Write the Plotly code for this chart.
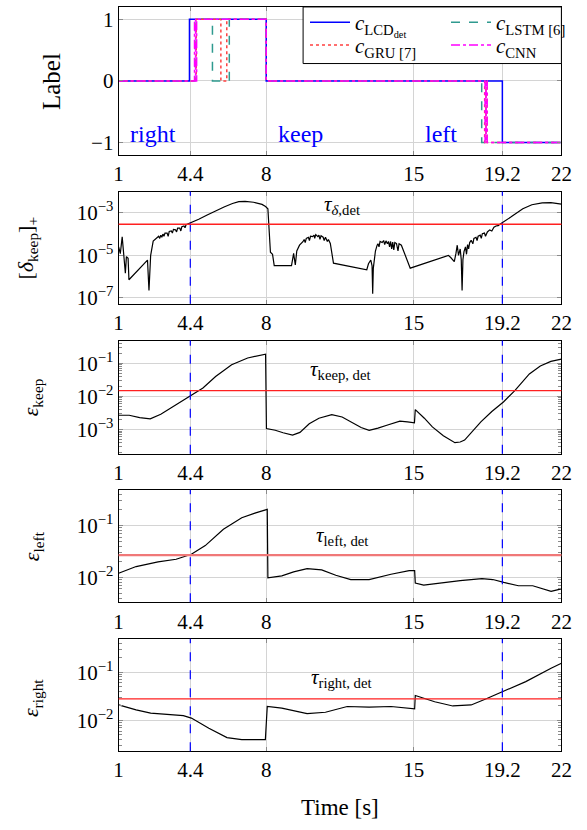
import plotly.graph_objects as go

# ---------------- data ----------------
time_ticks = [1, 4.4, 8, 15, 19.2, 22]
time_tick_text = ["1", "4.4", "8", "15", "19.2", "22"]
event_times = [4.4, 19.2]

# Panel 1: predicted labels (step signals: switch times, values)
lcd_t = [1, 4.36, 8, 19.2, 22]
lcd_v = [0, 1, 0, -1, -1]
lstm_t = [1, 4.62, 5.45, 6.25, 8, 18.22, 22]
lstm_v = [0, 1, 0, 1, 0, -1, -1]
gru_t = [1, 4.68, 5.85, 6.13, 8, 18.36, 18.42, 18.47, 22]
gru_v = [0, 1, 0, 1, 0, -1, 0, -1, -1]
cnn_t = [1, 4.6, 4.65, 4.7, 8, 18.38, 18.43, 18.48, 22]
cnn_v = [0, 1, 0, 1, 0, -1, 0, -1, -1]

segment_names = ["right", "keep", "left"]
segment_name_t = [2.61, 9.61, 16.29]
segment_name_y = [-0.855, -0.855, -0.855]

# Panel 2: [delta_keep]_+
delta_t = [1.0, 1.08, 1.17, 1.25, 1.32, 1.37, 1.45, 1.49, 2.37, 2.44, 2.52, 2.64, 2.83,
           2.9, 2.95, 3.0, 3.05, 3.1, 3.15, 3.2, 3.3, 3.35, 3.4, 3.5, 3.55, 3.6, 3.7, 3.75,
           3.8, 3.9, 3.95, 4.0, 4.1, 4.15, 4.2, 4.3, 4.4, 4.8, 5.2, 5.6, 6.0, 6.4, 6.7, 7.0,
           7.4, 7.8, 7.97, 8.08, 8.2, 8.3, 8.38, 9.2, 9.3, 9.38, 9.45, 9.58, 9.65, 9.74, 9.8,
           9.85, 9.9, 10.0, 10.05, 10.1, 10.2, 10.27, 10.3, 10.35, 10.45, 10.5, 10.55, 10.6,
           10.7, 10.75, 10.81, 10.9, 10.95, 11.04, 11.19, 12.77, 12.85, 12.96, 13.02, 13.05,
           13.08, 13.11, 13.18, 13.26, 13.3, 13.35, 13.4, 13.5, 13.57, 13.62, 13.68, 13.75,
           13.8, 13.85, 13.9, 13.95, 14.0, 14.05, 14.1, 14.18, 14.25, 14.3, 14.41, 14.83,
           16.64, 16.75, 16.92, 17.0, 17.06, 17.12, 17.2, 17.25, 17.29, 17.33, 17.38, 17.45,
           17.5, 17.55, 17.6, 17.65, 17.72, 17.8, 17.85, 17.95, 18.0, 18.05, 18.15, 18.2,
           18.25, 18.35, 18.4, 18.49, 18.6, 18.7, 18.8, 18.9, 19.0, 19.1, 19.25, 19.6, 20.17,
           20.6, 21.09, 21.5, 22.0]
delta_v = [2.5e-5, 1.2e-5, 7.4e-5, 6e-6, 1.45e-6, 8.7e-6, 7.2e-6, 7.1e-7, 6.0e-6, 2.2e-7,
           1.0e-5, 4.7e-5, 7.4e-5,
           7.9e-5, 6.3e-5, 8.9e-5, 7.1e-5, 1.0e-4, 7.9e-5, 1.12e-4, 1.12e-4, 7.9e-5, 1.32e-4,
           1.41e-4, 1.12e-4, 1.66e-4, 1.58e-4, 1.26e-4, 1.91e-4, 1.91e-4, 1.41e-4, 2.24e-4,
           2.4e-4, 2.0e-4, 2.75e-4, 3.0e-4, 3.3e-4, 5.0e-4, 7.9e-4, 1.26e-3, 1.9e-3, 2.75e-3,
           3.4e-3, 3.5e-3, 3.16e-3, 2.5e-3, 2.0e-3, 1.55e-3, 1.4e-5, 1.12e-5, 3.3e-6, 3.3e-6,
           1.23e-5, 3.5e-6, 1.6e-5, 3.0e-5, 3.5e-5, 4.4e-5, 5.6e-5, 4.0e-5, 6.3e-5, 7.1e-5,
           5.0e-5, 7.9e-5, 7.6e-5, 8.9e-5, 6.3e-5, 9.5e-5, 7.6e-5, 8.9e-5, 5.6e-5, 8.3e-5,
           7.1e-5, 5.0e-5, 7.1e-5, 4.5e-5, 5.6e-5, 3.6e-5, 4.3e-6, 2.1e-6, 4.0e-6, 6.0e-6,
           3.2e-6, 1.55e-7, 2.5e-6, 5.1e-6, 1.6e-5, 3.0e-5, 3.5e-5, 2.5e-5, 4.5e-5, 4.0e-5,
           5.0e-5, 3.2e-5, 4.8e-5, 3.5e-5, 4.5e-5, 2.5e-5, 4.5e-5, 2.0e-5, 4.2e-5, 1.8e-5,
           4.0e-5, 3.6e-5, 1.6e-5, 3.5e-5, 3.0e-5, 2.5e-6, 1.0e-5, 7.9e-6, 5.1e-6, 1.26e-5,
           3.0e-5, 1.0e-5, 2.0e-5, 6.3e-6, 2.2e-7, 6.3e-6, 1.5e-5, 2.5e-5, 1.12e-5, 3.2e-5,
           2.0e-5, 4.0e-5, 5.1e-5, 3.5e-5, 6.3e-5, 7.1e-5, 5.0e-5, 7.9e-5, 8.9e-5, 6.3e-5,
           1.05e-4, 1.12e-4, 7.9e-5, 1.26e-4, 1.58e-4, 1.41e-4, 2.1e-4, 2.4e-4, 2.5e-4,
           3.0e-4, 3.7e-4, 6.3e-4, 1.55e-3, 2.4e-3, 2.95e-3, 3.0e-3, 2.6e-3]

# Panel 3: eps_keep
keep_t = [1.0, 1.5, 2.0, 2.5, 3.0, 3.6, 4.4, 5.0, 5.6, 6.36, 7.12, 7.6, 7.97, 8.01, 8.43,
          8.8, 9.25, 9.6, 10.04, 10.5, 11.11, 11.6, 12.03, 12.5, 12.88, 13.3, 13.72, 14.34,
          14.7, 15.03, 15.07, 15.5, 15.88, 16.4, 16.95, 17.2, 17.41, 17.8, 18.18, 18.7,
          19.25, 19.79, 20.48, 21.0, 21.5, 22.0]
keep_v = [2.7e-3, 2.7e-3, 2.3e-3, 2.1e-3, 2.9e-3, 5.0e-3, 1.0e-2, 1.8e-2, 4.0e-2, 9.1e-2,
          0.145, 0.17, 0.19, 1.07e-3, 9.5e-4, 8.0e-4, 6.8e-4, 8.2e-4, 1.5e-3, 2.2e-3,
          2.8e-3, 2.4e-3, 1.7e-3, 1.15e-3, 9.5e-4, 1.1e-3, 1.35e-3, 1.8e-3, 1.7e-3, 1.6e-3,
          4.0e-3, 2.2e-3, 1.2e-3, 6.5e-4, 4.0e-4, 4.2e-4, 4.8e-4, 9.0e-4, 1.7e-3, 3.5e-3,
          6.8e-3, 1.5e-2, 4.8e-2, 8.3e-2, 0.115, 0.135]

# Panel 4: eps_left
left_t = [1.0, 1.83, 2.87, 3.73, 4.45, 5.11, 5.97, 6.84, 7.5, 8.05, 8.08, 8.74, 9.3, 9.94,
          10.63, 11.3, 12.01, 12.88, 13.92, 14.78, 15.04, 15.07, 15.47, 16.3, 17.2, 18.23,
          18.75, 19.27, 19.96, 20.64, 21.1, 21.51, 22.0]
left_v = [1.2e-2, 1.62e-2, 2.0e-2, 2.24e-2, 2.8e-2, 4.1e-2, 8.5e-2, 0.141, 0.175, 0.205,
          9.8e-3, 1.07e-2, 1.28e-2, 1.48e-2, 1.4e-2, 1.1e-2, 9.1e-3, 9.1e-3, 1.15e-2,
          1.35e-2, 1.35e-2, 7.8e-3, 7.1e-3, 7.9e-3, 8.7e-3, 9.5e-3, 9.1e-3, 8.0e-3, 6.9e-3,
          6.9e-3, 6.0e-3, 5.4e-3, 6.0e-3]

# Panel 5: eps_right
right_t = [1.0, 1.83, 2.52, 3.38, 4.07, 4.45, 5.28, 6.14, 6.84, 7.53, 7.96, 8.05, 8.74,
           9.94, 10.81, 11.84, 12.88, 13.92, 15.04, 15.07, 15.99, 16.85, 17.72, 18.41,
           19.27, 20.31, 21.51, 22.0]
right_v = [2.1e-2, 1.66e-2, 1.42e-2, 1.35e-2, 1.26e-2, 1.12e-2, 6.9e-3, 4.4e-3, 4.0e-3,
           4.0e-3, 4.0e-3, 1.95e-2, 1.8e-2, 1.38e-2, 1.48e-2, 1.95e-2, 1.9e-2, 1.95e-2,
           1.74e-2, 3.3e-2, 2.45e-2, 2.0e-2, 2.1e-2, 2.8e-2, 4.0e-2, 6.4e-2, 0.122, 0.155]

thresholds = [2.9e-4, 0.015, 0.027, 0.028]
threshold_names = ["<i>τ</i><sub><i>δ</i>,det</sub>", "<i>τ</i><sub>keep, det</sub>",
                   "<i>τ</i><sub>left, det</sub>", "<i>τ</i><sub>right, det</sub>"]

panel_titles = ["Label", "[<i>δ</i><sub>keep</sub>]<sub>+</sub>", "<i>ε</i><sub>keep</sub>",
                "<i>ε</i><sub>left</sub>", "<i>ε</i><sub>right</sub>"]

# ---------------- figure ----------------
FONT = "Liberation Serif"
W, H = 587, 830
fig = go.Figure()

# panel 1
fig.add_trace(go.Scatter(x=lcd_t, y=lcd_v, mode="lines", line=dict(color="#0000ff", width=1.5, shape="hv"),
                         name="<i>c</i><sub>LCD<sub>det</sub></sub>", legend="legend", xaxis="x", yaxis="y"))
fig.add_trace(go.Scatter(x=lstm_t, y=lstm_v, mode="lines", line=dict(color="#2f9a8f", width=1.5, shape="hv", dash="dash"),
                         name="<i>c</i><sub>LSTM [6]</sub>", legend="legend", xaxis="x", yaxis="y"))
fig.add_trace(go.Scatter(x=gru_t, y=gru_v, mode="lines", line=dict(color="#ff4040", width=1.5, shape="hv", dash="dot"),
                         name="<i>c</i><sub>GRU [7]</sub>", legend="legend2", xaxis="x", yaxis="y"))
fig.add_trace(go.Scatter(x=cnn_t, y=cnn_v, mode="lines", line=dict(color="#ff00ff", width=1.5, shape="hv", dash="dashdot"),
                         name="<i>c</i><sub>CNN</sub>", legend="legend2", xaxis="x", yaxis="y"))

series = [(delta_t, delta_v), (keep_t, keep_v), (left_t, left_v), (right_t, right_v)]
for i, (t, v) in enumerate(series):
    n = i + 2
    fig.add_trace(go.Scatter(x=t, y=v, mode="lines", line=dict(color="black", width=1.2),
                             showlegend=False, xaxis=f"x{n}", yaxis=f"y{n}"))

ydomains = [(1 - 156 / H, 1 - 7 / H), (1 - 306 / H, 1 - 193 / H), (1 - 457 / H, 1 - 343 / H),
            (1 - 606.7 / H, 1 - 493.3 / H), (1 - 756.7 / H, 1 - 643.3 / H)]
xdomain = [117 / W, 573 / W]
yranges = [[-1.2, 1.2], [-7.28, -2.0], [-3.73, -0.31], [-2.48, -0.31], [-2.64, -0.30]]

grid_c = "#d4d4d4"
tick_c = "#8a8a8a"
layout = dict(width=W, height=H, margin=dict(l=0, r=0, t=0, b=0),
              paper_bgcolor="white", plot_bgcolor="white",
              font=dict(family=FONT, size=21, color="black"))
for i in range(5):
    sx = "" if i == 0 else str(i + 1)
    layout[f"xaxis{sx}"] = dict(domain=xdomain, anchor=f"y{sx}", range=[1, 22],
                                tickvals=time_ticks, ticktext=time_tick_text,
                                showgrid=True, gridcolor=grid_c, gridwidth=1,
                                showline=True, linecolor="black", linewidth=1, mirror="allticks",
                                ticks="inside", ticklen=4, tickcolor=tick_c, zeroline=False,
                                tickfont=dict(size=21), fixedrange=True)
    ya = dict(domain=list(ydomains[i]), anchor=f"x{sx}", range=yranges[i],
              showgrid=True, gridcolor=grid_c, gridwidth=1,
              showline=True, linecolor="black", linewidth=1, mirror="allticks",
              ticks="inside", ticklen=4, tickcolor=tick_c, zeroline=False,
              tickfont=dict(size=21), fixedrange=True)
    if i == 0:
        ya.update(tickvals=[1, 0, -1], ticktext=["1", "0", "−1"])
    elif i == 1:
        ya.update(type="log", tickvals=[1e-7, 1e-5, 1e-3],
                  ticktext=["10<sup>−7</sup>", "10<sup>−5</sup>", "10<sup>−3</sup>"])
    elif i == 2:
        ya.update(type="log", tickvals=[1e-3, 1e-2, 1e-1],
                  ticktext=["10<sup>−3</sup>", "10<sup>−2</sup>", "10<sup>−1</sup>"],
                  minor=dict(ticks="inside", ticklen=3, tickcolor=tick_c, dtick="D1", showgrid=False))
    else:
        ya.update(type="log", tickvals=[1e-2, 1e-1],
                  ticktext=["10<sup>−2</sup>", "10<sup>−1</sup>"],
                  minor=dict(ticks="inside", ticklen=3, tickcolor=tick_c, dtick="D1", showgrid=False))
    layout[f"yaxis{sx}"] = ya

shapes = []
annotations = []
for i in range(4):
    n = i + 2
    for et in event_times:
        shapes.append(dict(type="line", xref=f"x{n}", yref=f"y{n} domain", x0=et, x1=et, y0=0, y1=1,
                           line=dict(color="#0000ff", width=1.2, dash="dash")))
    shapes.append(dict(type="line", xref=f"x{n} domain", yref=f"y{n}", x0=0, x1=1,
                       y0=thresholds[i], y1=thresholds[i],
                       line=dict(color="#ff2020" if i != 2 else "#f07878", width=1.3 if i != 2 else 2.2)))

# legend frame
shapes.append(dict(type="rect", xref="paper", yref="paper", x0=307 / W, x1=573 / W,
                   y0=1 - 64 / H, y1=1 - 7 / H, fillcolor="white",
                   line=dict(color="black", width=1), layer="above"))

thr_label_px = [(347, 206), (345, 373), (347, 540), (347, 683)]
for (px, py), txt in zip(thr_label_px, threshold_names):
    annotations.append(dict(x=px / W, y=1 - py / H, xref="paper", yref="paper",
                            text=txt, showarrow=False, font=dict(size=21),
                            xanchor="center", yanchor="middle"))

for name, t, y in zip(segment_names, segment_name_t, segment_name_y):
    annotations.append(dict(x=t, y=y, xref="x", yref="y", text=name, showarrow=False,
                            font=dict(size=24, color="#0000ff")))

title_pos = [(48, 82), (23, 250), (28, 400), (29, 550), (28, 703)]
title_sizes = [25, 22, 22, 22, 22]
for (px, py), txt, fs in zip(title_pos, panel_titles, title_sizes):
    annotations.append(dict(x=px / W, y=1 - py / H, xref="paper", yref="paper", text=txt,
                            textangle=-90, showarrow=False, font=dict(size=fs),
                            xanchor="center", yanchor="middle"))

annotations.append(dict(x=345 / W, y=1 - 813 / H, xref="paper", yref="paper", text="Time [s]",
                        showarrow=False, font=dict(size=23), xanchor="center", yanchor="middle"))

layout["shapes"] = shapes
layout["annotations"] = annotations
layout["legend"] = dict(orientation="h", x=309 / W, y=1 - 2 / H, xanchor="left", yanchor="top",
                        bgcolor="rgba(0,0,0,0)", borderwidth=0, font=dict(size=21),
                        entrywidth=86, itemwidth=40, tracegroupgap=0)
layout["legend2"] = dict(orientation="h", x=309 / W, y=1 - 25 / H, xanchor="left", yanchor="top",
                         bgcolor="rgba(0,0,0,0)", borderwidth=0, font=dict(size=21),
                         entrywidth=86, itemwidth=40, tracegroupgap=0)
fig.update_layout(**layout)

fig.write_html("out.html")
